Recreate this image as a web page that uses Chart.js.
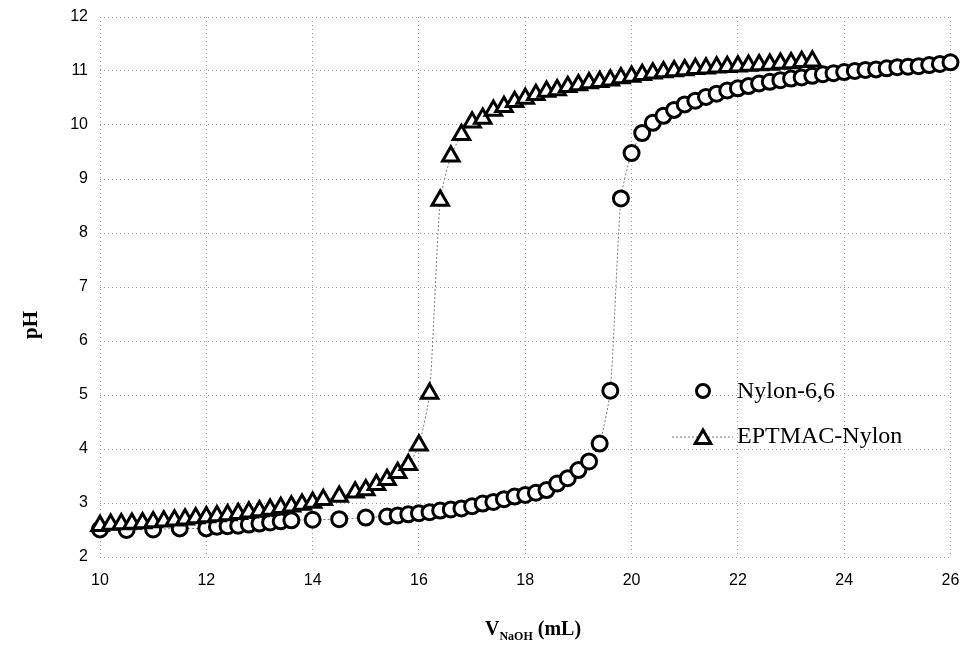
<!DOCTYPE html>
<html>
<head>
<meta charset="utf-8">
<script src="https://cdn.jsdelivr.net/npm/chart.js@4.4.0/dist/chart.umd.min.js"></script>
<style>
  html, body { margin: 0; padding: 0; background: #fff; }
  #wrap { width: 963px; height: 648px; }
</style>
</head>
<body>
<div id="wrap"><canvas id="phChart" width="963" height="648"></canvas></div>
<script>
// titration curves, pH vs volume of NaOH added
const seriesNames = ['Nylon-6,6', 'EPTMAC-Nylon'];

const nylonVolume = [10, 10.5, 11, 11.5, 12, 12.2, 12.4, 12.6, 12.8, 13, 13.2, 13.4, 13.6, 14, 14.5, 15,
  15.4, 15.6, 15.8, 16, 16.2, 16.4, 16.6, 16.8, 17, 17.2, 17.4, 17.6, 17.8, 18, 18.2, 18.4, 18.6, 18.8,
  19, 19.2, 19.4, 19.6, 19.8, 20, 20.2, 20.4, 20.6, 20.8, 21, 21.2, 21.4, 21.6, 21.8, 22, 22.2, 22.4,
  22.6, 22.8, 23, 23.2, 23.4, 23.6, 23.8, 24, 24.2, 24.4, 24.6, 24.8, 25, 25.2, 25.4, 25.6, 25.8, 26];
const nylonPH = [2.51, 2.5, 2.51, 2.53, 2.53, 2.56, 2.57, 2.58, 2.6, 2.62, 2.64, 2.66, 2.68, 2.69, 2.7, 2.73,
  2.75, 2.77, 2.79, 2.81, 2.83, 2.86, 2.88, 2.9, 2.94, 2.99, 3.02, 3.07, 3.12, 3.15, 3.19, 3.24, 3.36, 3.46,
  3.61, 3.77, 4.1, 5.08, 8.64, 9.48, 9.85, 10.04, 10.17, 10.28, 10.38, 10.45, 10.52, 10.58, 10.64, 10.68, 10.72, 10.77,
  10.8, 10.83, 10.86, 10.88, 10.91, 10.94, 10.96, 10.98, 11.0, 11.02, 11.03, 11.05, 11.07, 11.08, 11.09, 11.11, 11.13, 11.16];

const eptmacVolume = [10, 10.2, 10.4, 10.6, 10.8, 11, 11.2, 11.4, 11.6, 11.8, 12, 12.2, 12.4, 12.6, 12.8, 13,
  13.2, 13.4, 13.6, 13.8, 14, 14.2, 14.5, 14.8, 15, 15.2, 15.4, 15.6, 15.8, 16, 16.2, 16.4, 16.6, 16.8,
  17, 17.2, 17.4, 17.6, 17.8, 18, 18.2, 18.4, 18.6, 18.8, 19, 19.2, 19.4, 19.6, 19.8, 20, 20.2, 20.4,
  20.6, 20.8, 21, 21.2, 21.4, 21.6, 21.8, 22, 22.2, 22.4, 22.6, 22.8, 23, 23.2, 23.4];
const eptmacPH = [2.58, 2.6, 2.61, 2.62, 2.63, 2.65, 2.66, 2.68, 2.7, 2.72, 2.74, 2.76, 2.78, 2.8, 2.83, 2.85,
  2.88, 2.91, 2.94, 2.97, 3.01, 3.06, 3.12, 3.2, 3.24, 3.34, 3.43, 3.56, 3.71, 4.07, 5.03, 8.6, 9.42, 9.82,
  10.05, 10.12, 10.27, 10.34, 10.43, 10.49, 10.56, 10.62, 10.65, 10.71, 10.74, 10.78, 10.8, 10.83, 10.87, 10.9, 10.93, 10.96,
  10.98, 11.0, 11.02, 11.04, 11.05, 11.07, 11.08, 11.09, 11.1, 11.11, 11.12, 11.14, 11.15, 11.17, 11.18];

// axis range / ticks
const xRange = [10, 26];
const xStep = 2;
const yRange = [2, 12];
const yStep = 1;

const toPoints = (xs, ys) => xs.map((x, i) => ({ x: x, y: ys[i] }));

// axis titles + in-plot legend
const extras = {
  id: 'extras',
  afterDraw(chart) {
    const ctx = chart.ctx;
    const h = Chart.helpers;

    // y title
    ctx.save();
    ctx.fillStyle = '#000';
    ctx.font = 'bold 21px "Liberation Serif"';
    ctx.translate(32, 325);
    ctx.rotate(-Math.PI / 2);
    ctx.textAlign = 'center';
    ctx.textBaseline = 'middle';
    ctx.fillText('pH', 0, 0);
    ctx.restore();

    // x title with subscript
    ctx.save();
    ctx.fillStyle = '#000';
    ctx.textBaseline = 'alphabetic';
    const big = 'bold 20px "Liberation Serif"';
    const small = 'bold 12px "Liberation Serif"';
    ctx.font = big;
    const wV = ctx.measureText('V').width;
    const wRest = ctx.measureText(' (mL)').width;
    ctx.font = small;
    const wSub = ctx.measureText('NaOH').width;
    let x = 533 - (wV + wSub + wRest) / 2;
    const base = 635;
    ctx.font = big;
    ctx.fillText('V', x, base);
    x += wV;
    ctx.font = small;
    ctx.fillText('NaOH', x, base + 5);
    x += wSub;
    ctx.font = big;
    ctx.fillText(' (mL)', x, base);
    ctx.restore();

    // legend
    ctx.save();
    ctx.fillStyle = '#000';
    ctx.font = '24px "Liberation Serif"';
    ctx.textBaseline = 'middle';
    ctx.textAlign = 'left';
    ctx.fillText(seriesNames[0], 737, 392);
    ctx.fillText(seriesNames[1], 737, 437);

    ctx.strokeStyle = '#777';
    ctx.lineWidth = 1;
    ctx.setLineDash([2, 2]);
    ctx.beginPath();
    ctx.moveTo(672, 437);
    ctx.lineTo(733, 437);
    ctx.stroke();
    ctx.setLineDash([]);

    ctx.fillStyle = '#fff';
    ctx.strokeStyle = '#000';
    ctx.lineWidth = 3;
    h.drawPoint(ctx, { pointStyle: 'circle', radius: 6.5, borderWidth: 3, rotation: 0 }, 703, 391);
    ctx.fillStyle = '#fff';
    ctx.strokeStyle = '#000';
    ctx.lineWidth = 3;
    h.drawPoint(ctx, { pointStyle: 'triangle', radius: 9, borderWidth: 3, rotation: 0 }, 703, 439);
    ctx.restore();
  }
};

new Chart(document.getElementById('phChart'), {
  type: 'scatter',
  data: {
    datasets: [
      {
        label: seriesNames[1],
        data: toPoints(eptmacVolume, eptmacPH),
        showLine: true,
        borderColor: '#777',
        borderWidth: 1,
        borderDash: [2, 2],
        tension: 0.2,
        pointStyle: 'triangle',
        pointRadius: 9.5,
        pointBorderWidth: 3,
        pointBorderColor: '#000',
        pointBackgroundColor: '#fff',
        clip: false,
        order: 1
      },
      {
        label: seriesNames[0],
        data: toPoints(nylonVolume, nylonPH),
        showLine: true,
        borderColor: '#777',
        borderWidth: 1,
        borderDash: [2, 2],
        tension: 0.2,
        pointStyle: 'circle',
        pointRadius: 7.5,
        pointBorderWidth: 3,
        pointBorderColor: '#000',
        pointBackgroundColor: '#fff',
        clip: false,
        order: 2
      }
    ]
  },
  options: {
    responsive: false,
    animation: false,
    layout: { padding: { top: 17, right: 11, left: 0, bottom: 0 } },
    plugins: {
      legend: { display: false },
      tooltip: { enabled: false }
    },
    scales: {
      x: {
        type: 'linear',
        min: xRange[0],
        max: xRange[1],
        ticks: { stepSize: xStep, padding: 14, color: '#000', font: { family: 'Liberation Sans', size: 16 } },
        grid: { color: '#9a9a9a', lineWidth: 1, drawTicks: false },
        border: { display: false, dash: [1, 3] },
        afterFit(scale) {
          scale.height = 91;
          scale.paddingLeft = 0;
          scale.paddingRight = 0;
        }
      },
      y: {
        min: yRange[0],
        max: yRange[1],
        ticks: { stepSize: yStep, padding: 12, color: '#000', font: { family: 'Liberation Sans', size: 16 } },
        grid: { color: '#9a9a9a', lineWidth: 1, drawTicks: false },
        border: { display: false, dash: [1, 3] },
        afterFit(scale) {
          scale.width = 100;
          scale.paddingTop = 0;
          scale.paddingBottom = 0;
        }
      }
    }
  },
  plugins: [extras]
});
</script>
</body>
</html>
